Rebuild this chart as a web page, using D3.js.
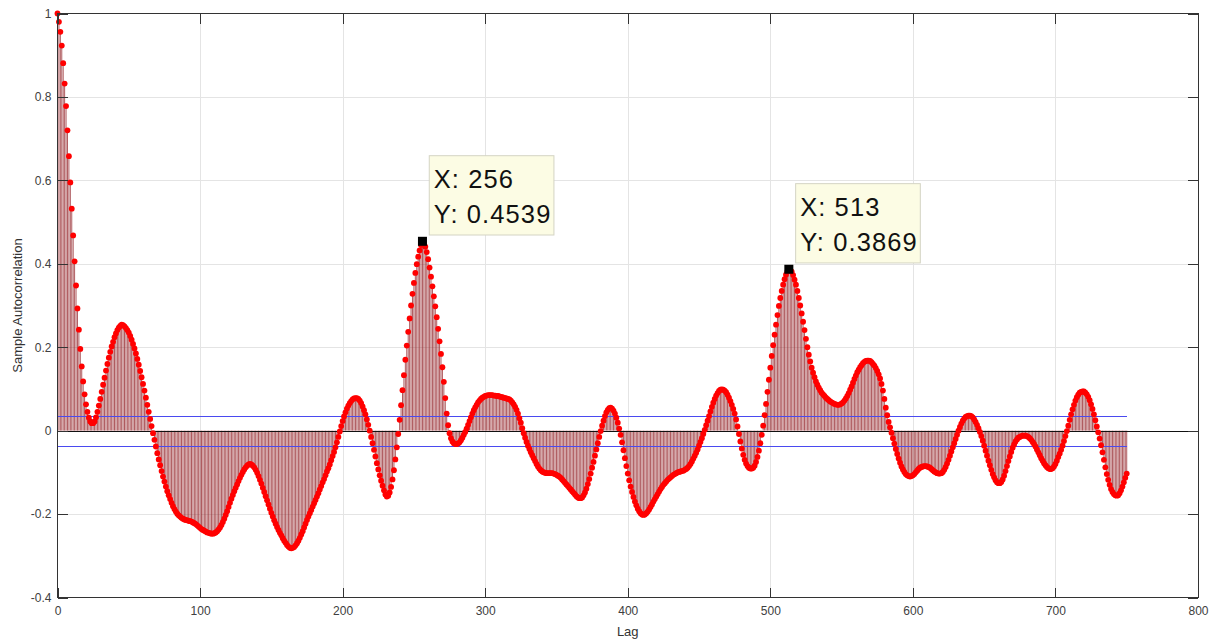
<!DOCTYPE html>
<html>
<head>
<meta charset="utf-8">
<script src="https://cdn.jsdelivr.net/npm/d3@7"></script>
<style>
  html, body { margin: 0; padding: 0; background: #ffffff; }
  svg { display: block; font-family: "Liberation Sans", Arial, Helvetica, sans-serif; }
</style>
</head>
<body>
<svg id="chart" width="1219" height="642"></svg>
<script>
// Sample autocorrelation, lags 0..750 (one value per lag, ten per row)
const acf = [
  1.000, 0.980, 0.956, 0.923, 0.881, 0.832, 0.778, 0.720, 0.658, 0.595,
  0.532, 0.468, 0.406, 0.348, 0.293, 0.242, 0.196, 0.154, 0.118, 0.087,
  0.063, 0.045, 0.031, 0.022, 0.018, 0.018, 0.022, 0.032, 0.045, 0.060,
  0.076, 0.093, 0.110, 0.127, 0.144, 0.160, 0.175, 0.189, 0.202, 0.213,
  0.224, 0.233, 0.241, 0.247, 0.251, 0.254, 0.253, 0.250, 0.246, 0.241,
  0.235, 0.227, 0.218, 0.208, 0.197, 0.185, 0.172, 0.158, 0.143, 0.128,
  0.112, 0.096, 0.079, 0.062, 0.045, 0.028, 0.011, -0.006, -0.022, -0.038,
  -0.054, -0.069, -0.083, -0.097, -0.110, -0.122, -0.134, -0.145, -0.155, -0.164,
  -0.173, -0.181, -0.188, -0.194, -0.199, -0.203, -0.206, -0.209, -0.211, -0.213,
  -0.214, -0.215, -0.216, -0.217, -0.218, -0.220, -0.222, -0.224, -0.227, -0.230,
  -0.233, -0.236, -0.238, -0.240, -0.242, -0.244, -0.245, -0.246, -0.247, -0.247,
  -0.246, -0.244, -0.241, -0.237, -0.232, -0.226, -0.219, -0.211, -0.202, -0.193,
  -0.183, -0.173, -0.163, -0.154, -0.145, -0.137, -0.129, -0.121, -0.113, -0.106,
  -0.099, -0.093, -0.088, -0.084, -0.081, -0.080, -0.081, -0.084, -0.088, -0.094,
  -0.101, -0.109, -0.118, -0.127, -0.137, -0.147, -0.157, -0.167, -0.177, -0.187,
  -0.197, -0.206, -0.215, -0.223, -0.231, -0.238, -0.245, -0.251, -0.258, -0.264,
  -0.269, -0.274, -0.278, -0.281, -0.282, -0.281, -0.279, -0.275, -0.270, -0.264,
  -0.257, -0.249, -0.241, -0.232, -0.223, -0.214, -0.206, -0.198, -0.190, -0.182,
  -0.174, -0.166, -0.158, -0.150, -0.141, -0.133, -0.124, -0.116, -0.107, -0.098,
  -0.090, -0.081, -0.071, -0.061, -0.051, -0.040, -0.028, -0.015, -0.002, 0.011,
  0.023, 0.034, 0.044, 0.053, 0.060, 0.066, 0.071, 0.075, 0.077, 0.078,
  0.078, 0.076, 0.072, 0.066, 0.058, 0.049, 0.039, 0.027, 0.014, 0.000,
  -0.015, -0.030, -0.046, -0.062, -0.078, -0.093, -0.107, -0.120, -0.132, -0.143,
  -0.153, -0.158, -0.156, -0.148, -0.135, -0.117, -0.095, -0.069, -0.040, -0.008,
  0.026, 0.061, 0.097, 0.133, 0.170, 0.204, 0.237, 0.269, 0.300, 0.328,
  0.354, 0.378, 0.399, 0.417, 0.432, 0.445, 0.4539, 0.450, 0.441, 0.428,
  0.411, 0.391, 0.369, 0.346, 0.322, 0.298, 0.272, 0.244, 0.214, 0.184,
  0.152, 0.117, 0.078, 0.041, 0.013, -0.006, -0.018, -0.026, -0.030, -0.032,
  -0.032, -0.031, -0.028, -0.023, -0.017, -0.010, -0.003, 0.005, 0.014, 0.023,
  0.032, 0.041, 0.049, 0.056, 0.062, 0.068, 0.072, 0.076, 0.079, 0.081,
  0.083, 0.084, 0.085, 0.085, 0.085, 0.085, 0.084, 0.084, 0.083, 0.083,
  0.082, 0.081, 0.080, 0.079, 0.078, 0.077, 0.076, 0.075, 0.072, 0.068,
  0.063, 0.057, 0.050, 0.041, 0.030, 0.019, 0.006, -0.006, -0.017, -0.027,
  -0.036, -0.044, -0.052, -0.059, -0.066, -0.073, -0.080, -0.086, -0.091, -0.095,
  -0.098, -0.100, -0.101, -0.102, -0.102, -0.102, -0.102, -0.102, -0.103, -0.104,
  -0.106, -0.108, -0.110, -0.113, -0.117, -0.121, -0.125, -0.129, -0.133, -0.137,
  -0.141, -0.145, -0.149, -0.153, -0.157, -0.160, -0.162, -0.162, -0.160, -0.155,
  -0.148, -0.139, -0.128, -0.116, -0.103, -0.089, -0.075, -0.060, -0.045, -0.030,
  -0.015, -0.001, 0.012, 0.024, 0.035, 0.044, 0.050, 0.054, 0.055, 0.053,
  0.048, 0.041, 0.031, 0.019, 0.005, -0.010, -0.028, -0.047, -0.066, -0.085,
  -0.103, -0.119, -0.134, -0.147, -0.159, -0.170, -0.179, -0.187, -0.193, -0.198,
  -0.201, -0.202, -0.201, -0.198, -0.194, -0.189, -0.183, -0.177, -0.170, -0.164,
  -0.158, -0.152, -0.146, -0.140, -0.135, -0.130, -0.126, -0.122, -0.118, -0.115,
  -0.112, -0.109, -0.106, -0.104, -0.102, -0.100, -0.099, -0.098, -0.097, -0.096,
  -0.094, -0.092, -0.089, -0.085, -0.080, -0.074, -0.067, -0.060, -0.053, -0.045,
  -0.036, -0.027, -0.018, -0.008, 0.002, 0.013, 0.024, 0.035, 0.046, 0.057,
  0.067, 0.076, 0.084, 0.090, 0.095, 0.098, 0.099, 0.098, 0.096, 0.092,
  0.086, 0.079, 0.071, 0.062, 0.052, 0.041, 0.027, 0.010, -0.008, -0.026,
  -0.043, -0.058, -0.070, -0.079, -0.085, -0.089, -0.091, -0.091, -0.089, -0.084,
  -0.075, -0.063, -0.048, -0.030, -0.010, 0.012, 0.037, 0.064, 0.093, 0.122,
  0.151, 0.179, 0.205, 0.230, 0.254, 0.277, 0.299, 0.318, 0.335, 0.350,
  0.363, 0.374, 0.382, 0.3869, 0.386, 0.381, 0.373, 0.362, 0.350, 0.335,
  0.318, 0.300, 0.281, 0.261, 0.241, 0.220, 0.200, 0.182, 0.166, 0.151,
  0.139, 0.128, 0.118, 0.110, 0.103, 0.097, 0.091, 0.087, 0.083, 0.079,
  0.076, 0.073, 0.070, 0.068, 0.066, 0.064, 0.063, 0.062, 0.062, 0.063,
  0.065, 0.068, 0.072, 0.077, 0.083, 0.090, 0.098, 0.106, 0.115, 0.124,
  0.132, 0.140, 0.146, 0.152, 0.157, 0.162, 0.165, 0.167, 0.168, 0.168,
  0.167, 0.164, 0.160, 0.156, 0.150, 0.143, 0.135, 0.125, 0.112, 0.096,
  0.076, 0.055, 0.037, 0.021, 0.008, -0.005, -0.018, -0.031, -0.044, -0.056,
  -0.067, -0.077, -0.086, -0.093, -0.099, -0.104, -0.107, -0.109, -0.110, -0.109,
  -0.107, -0.104, -0.100, -0.096, -0.092, -0.089, -0.087, -0.086, -0.085, -0.085,
  -0.086, -0.087, -0.089, -0.092, -0.095, -0.098, -0.100, -0.102, -0.103, -0.103,
  -0.102, -0.099, -0.094, -0.087, -0.079, -0.070, -0.060, -0.050, -0.040, -0.030,
  -0.020, -0.010, 0.000, 0.009, 0.017, 0.024, 0.029, 0.033, 0.035, 0.036,
  0.036, 0.035, 0.032, 0.027, 0.021, 0.014, 0.006, -0.003, -0.013, -0.024,
  -0.036, -0.048, -0.060, -0.072, -0.083, -0.094, -0.104, -0.112, -0.119, -0.124,
  -0.126, -0.126, -0.123, -0.117, -0.108, -0.097, -0.085, -0.073, -0.062, -0.051,
  -0.041, -0.033, -0.026, -0.021, -0.017, -0.015, -0.013, -0.012, -0.012, -0.012,
  -0.013, -0.015, -0.018, -0.022, -0.027, -0.032, -0.038, -0.045, -0.052, -0.059,
  -0.066, -0.072, -0.078, -0.083, -0.087, -0.090, -0.092, -0.092, -0.090, -0.086,
  -0.080, -0.072, -0.063, -0.055, -0.046, -0.036, -0.025, -0.013, -0.001, 0.012,
  0.026, 0.039, 0.051, 0.062, 0.072, 0.080, 0.086, 0.091, 0.093, 0.094,
  0.094, 0.091, 0.087, 0.081, 0.073, 0.063, 0.052, 0.039, 0.025, 0.010,
  -0.004, -0.019, -0.035, -0.052, -0.070, -0.088, -0.104, -0.118, -0.130, -0.140,
  -0.147, -0.152, -0.155, -0.156, -0.155, -0.150, -0.143, -0.134, -0.124, -0.113,
  -0.103
];

const xTicks = [0, 100, 200, 300, 400, 500, 600, 700, 800];
const xTickLabels = ["0", "100", "200", "300", "400", "500", "600", "700", "800"];
const yTicks = [-0.4, -0.2, 0, 0.2, 0.4, 0.6, 0.8, 1];
const yTickLabels = ["-0.4", "-0.2", "0", "0.2", "0.4", "0.6", "0.8", "1"];
const confBound = 0.0363;          // approximate 95% bound
const tipLags = [256, 513];        // pinned data tips
const xLabel = "Lag";
const yLabel = "Sample Autocorrelation";

const svg = d3.select("#chart");
const plot = { left: 57.5, right: 1198, top: 13.5, bottom: 597.5 };

const x = d3.scaleLinear().domain([0, 800]).range([plot.left, plot.right]);
const y = d3.scaleLinear().domain([-0.4, 1]).range([plot.bottom, plot.top]);
const px = v => Math.round(v) + 0.5;   // snap 1px lines to the pixel grid

const lags = acf.map((v, i) => ({ lag: i, v }));

// grid
const grid = svg.append("g").attr("shape-rendering", "crispEdges");
grid.selectAll("line.gx").data(xTicks.slice(1, -1)).join("line").attr("class", "gx")
  .attr("x1", d => px(x(d))).attr("x2", d => px(x(d)))
  .attr("y1", plot.top).attr("y2", plot.bottom)
  .attr("stroke", "#e4e4e4").attr("stroke-width", 1);
grid.selectAll("line.gy").data(yTicks.slice(1, -1)).join("line").attr("class", "gy")
  .attr("y1", d => px(y(d))).attr("y2", d => px(y(d)))
  .attr("x1", plot.left).attr("x2", plot.right)
  .attr("stroke", "#e4e4e4").attr("stroke-width", 1);

// stems
svg.append("g").selectAll("line").data(lags).join("line")
  .attr("x1", d => x(d.lag)).attr("x2", d => x(d.lag))
  .attr("y1", y(0)).attr("y2", d => y(d.v))
  .attr("stroke", "#8f1a20").attr("stroke-width", 1).attr("stroke-opacity", 0.72);

// zero baseline
svg.append("line")
  .attr("x1", plot.left).attr("x2", plot.right)
  .attr("y1", px(y(0))).attr("y2", px(y(0)))
  .attr("stroke", "#111").attr("stroke-width", 1).attr("shape-rendering", "crispEdges");

// confidence bounds
svg.append("g").selectAll("line").data([confBound, -confBound]).join("line")
  .attr("x1", x(0)).attr("x2", x(acf.length - 1))
  .attr("y1", d => px(y(d))).attr("y2", d => px(y(d)))
  .attr("stroke", "#4a4af0").attr("stroke-width", 1)
  .attr("shape-rendering", "crispEdges");

// markers
svg.append("g").selectAll("circle").data(lags).join("circle")
  .attr("cx", d => x(d.lag)).attr("cy", d => y(d.v)).attr("r", 2.9)
  .attr("fill", "#ff0000");

// axes with inward ticks on all four sides
const axisColor = "#333333";
function styleAxis(g) {
  g.select(".domain").remove();
  g.selectAll(".tick line").attr("stroke", axisColor).attr("shape-rendering", "crispEdges");
  g.selectAll(".tick text").attr("fill", "#404040").attr("font-size", 12)
    .attr("font-family", '"Liberation Sans", Arial, Helvetica, sans-serif');
}
svg.append("g").attr("transform", `translate(0,${plot.bottom})`)
  .call(d3.axisBottom(x).tickValues(xTicks).tickFormat((d, i) => xTickLabels[i]).tickSize(-10).tickPadding(9))
  .call(styleAxis);
svg.append("g").attr("transform", `translate(0,${plot.top})`)
  .call(d3.axisTop(x).tickValues(xTicks).tickFormat("").tickSize(-10))
  .call(styleAxis);
svg.append("g").attr("transform", `translate(${plot.left},0)`)
  .call(d3.axisLeft(y).tickValues(yTicks).tickFormat((d, i) => yTickLabels[i]).tickSize(-10).tickPadding(6))
  .call(styleAxis);
svg.append("g").attr("transform", `translate(${plot.right},0)`)
  .call(d3.axisRight(y).tickValues(yTicks).tickFormat("").tickSize(-10))
  .call(styleAxis);

// box
svg.append("rect")
  .attr("x", plot.left).attr("y", plot.top)
  .attr("width", plot.right - plot.left).attr("height", plot.bottom - plot.top)
  .attr("fill", "none").attr("stroke", axisColor).attr("stroke-width", 1)
  .attr("shape-rendering", "crispEdges");

// axis labels
svg.append("text").attr("x", (plot.left + plot.right) / 2).attr("y", 636)
  .attr("text-anchor", "middle").attr("font-size", 13).attr("fill", "#333")
  .text(xLabel);
svg.append("text").attr("transform", `translate(21.5,${(plot.top + plot.bottom) / 2}) rotate(-90)`)
  .attr("text-anchor", "middle").attr("font-size", 13).attr("fill", "#333")
  .text(yLabel);

// data tips
const fmtY = d3.format(".4f");
tipLags.forEach(lag => {
  const v = acf[lag];
  const mx = x(lag), my = y(v);
  const g = svg.append("g");
  const boxLeft = mx + 6.8, boxBottom = my - 6.3, boxTop = boxBottom - 79.3;
  const rect = g.append("rect").attr("x", boxLeft).attr("y", boxTop)
    .attr("height", boxBottom - boxTop)
    .attr("fill", "#fcfce4").attr("stroke", "#d4d4c4").attr("stroke-width", 1);
  const t1 = g.append("text").attr("x", boxLeft + 4.5).attr("y", boxTop + 32)
    .attr("font-size", 25.5).attr("letter-spacing", 1.1).attr("fill", "#111").text(`X: ${lag}`);
  const t2 = g.append("text").attr("x", boxLeft + 4.5).attr("y", boxTop + 67.6)
    .attr("font-size", 25.5).attr("letter-spacing", 1.1).attr("fill", "#111").text(`Y: ${fmtY(v)}`);
  const w = Math.max(t1.node().getComputedTextLength(), t2.node().getComputedTextLength());
  rect.attr("width", w + 7);
  g.append("rect").attr("x", mx - 4.5).attr("y", my - 4.5).attr("width", 9).attr("height", 9)
    .attr("fill", "#000");
});
</script>
</body>
</html>
